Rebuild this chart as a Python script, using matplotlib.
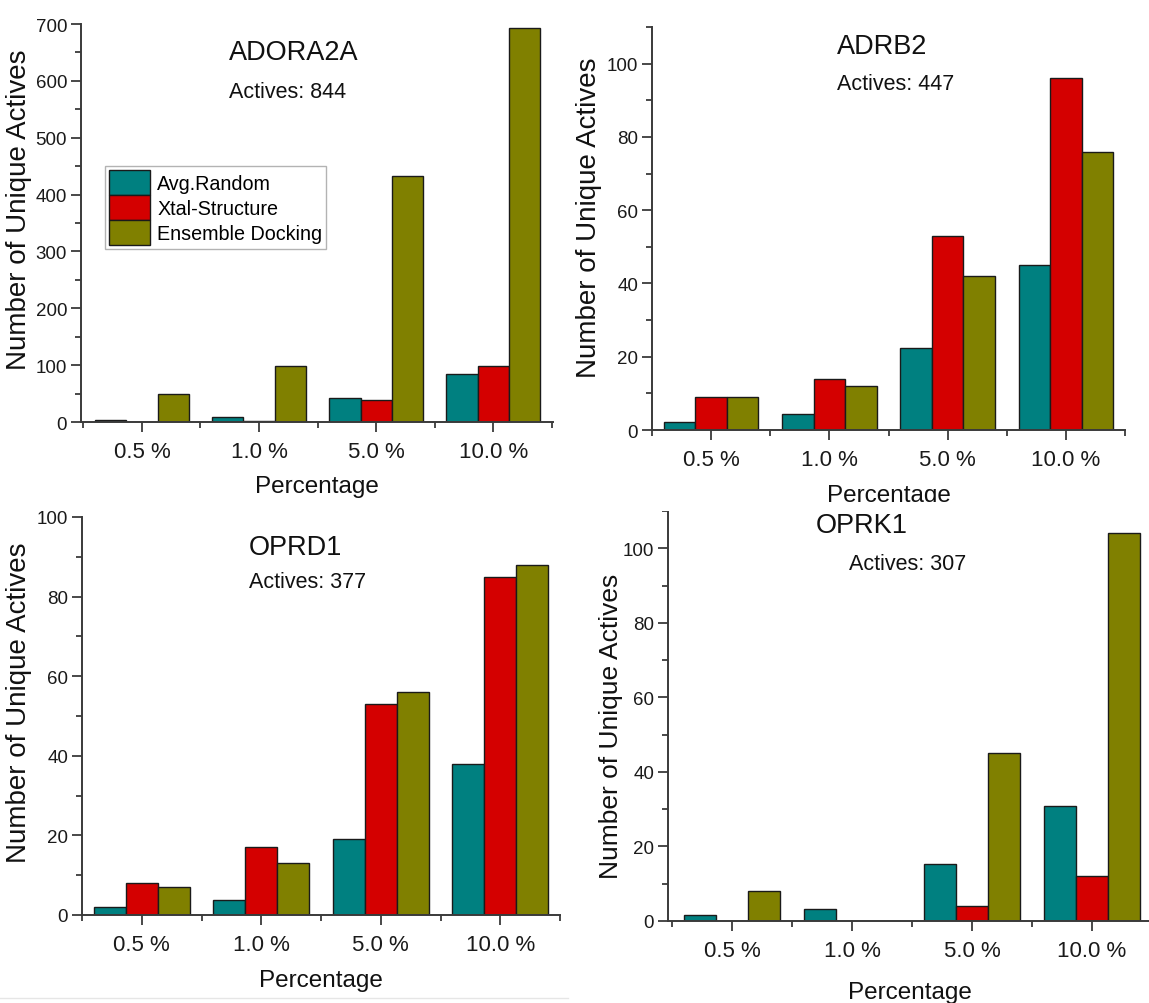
import matplotlib
matplotlib.use("Agg")
import matplotlib.pyplot as plt
from matplotlib.ticker import MultipleLocator, FixedLocator
from matplotlib.patches import Patch, Rectangle
import numpy as np

plt.rcParams['font.family'] = ['Liberation Sans', 'DejaVu Sans']

W, H, DPI = 1149, 1004, 100

categories = ["0.5 %", "1.0 %", "5.0 %", "10.0 %"]
series_names = ["Avg.Random", "Xtal-Structure", "Ensemble Docking"]
series_colors = ["#008080", "#d40000", "#808000"]

# ADORA2A
adora2a_random = [4, 9, 43, 85]
adora2a_xtal = [0, 2, 39, 98]
adora2a_ensemble = [50, 99, 432, 693]

# ADRB2
adrb2_random = [2.3, 4.5, 22.4, 45]
adrb2_xtal = [9, 14, 53, 96]
adrb2_ensemble = [9, 12, 42, 76]

# OPRD1
oprd1_random = [2, 3.7, 19, 38]
oprd1_xtal = [8, 17, 53, 85]
oprd1_ensemble = [7, 13, 56, 88]

# OPRK1
oprk1_random = [1.5, 3.1, 15.4, 30.8]
oprk1_xtal = [0, 0, 4, 12]
oprk1_ensemble = [8, 0, 45, 104]

targets = ["ADORA2A", "ADRB2", "OPRD1", "OPRK1"]
actives = [844, 447, 377, 307]

fig = plt.figure(figsize=(W / DPI, H / DPI), dpi=DPI)


def px_axes(left, right, bottom, top):
    return fig.add_axes([left / W, 1 - bottom / H, (right - left) / W, (bottom - top) / H])


def panel(box, series, ylim, ymajor, xlim, name, n_act, title_xy, act_xy,
          ylabel_xy, xlabel_y, ylabel_size=20, legend=False):
    left, right, bottom, top = box
    ax = px_axes(left, right, bottom, top)
    x = np.arange(1, len(categories) + 1)
    w = 0.8 / 3
    for i, (vals, col, lab) in enumerate(zip(series, series_colors, series_names)):
        ax.bar(x + (i - 1) * w, vals, width=w, color=col, edgecolor="#1a1a1a",
               linewidth=1.0, label=lab, zorder=2)
    ax.set_xlim(*xlim)
    ax.set_ylim(*ylim)
    for s in ["top", "right"]:
        ax.spines[s].set_visible(False)
    for s in ["left", "bottom"]:
        ax.spines[s].set_color("#3a3a3a")
        ax.spines[s].set_linewidth(1.4)
        ax.spines[s].set_zorder(3)
    ax.set_xticks(x)
    ax.set_xticklabels(categories, fontsize=16, color="#1a1a1a")
    ax.xaxis.set_minor_locator(FixedLocator(np.arange(0.5, len(categories) + 1, 1.0)))
    ax.yaxis.set_major_locator(MultipleLocator(ymajor))
    ax.yaxis.set_minor_locator(MultipleLocator(ymajor / 2))
    ax.tick_params(axis="both", which="major", direction="out", length=7, width=1.3,
                   color="#3a3a3a")
    ax.tick_params(axis="both", which="minor", direction="out", length=4, width=1.3,
                   color="#3a3a3a")
    ax.tick_params(axis="y", labelsize=13.5, labelcolor="#1a1a1a", pad=3)
    ax.tick_params(axis="x", pad=7)
    ax.set_ylabel("Number of Unique Actives", fontsize=ylabel_size, color="#111111")
    ax.set_xlabel("Percentage", fontsize=17.5, color="#111111")
    ax.yaxis.set_label_coords((ylabel_xy[0] - left) / (right - left),
                              (bottom - ylabel_xy[1]) / (bottom - top))
    ax.xaxis.set_label_coords(0.5, -(xlabel_y - bottom) / (bottom - top))
    ax.xaxis.label.set_va("center")
    ax.yaxis.label.set_va("center")
    fig.text(title_xy[0] / W, 1 - title_xy[1] / H, name, fontsize=19.5,
             ha="left", va="center", color="#111111")
    fig.text(act_xy[0] / W, 1 - act_xy[1] / H, f"Actives: {n_act}", fontsize=15.5,
             ha="left", va="center", color="#111111")
    if legend:
        handles = [Patch(facecolor=c, edgecolor="#1a1a1a", linewidth=1.0, label=l)
                   for c, l in zip(series_colors, series_names)]
        leg = ax.legend(handles=handles, loc="upper left",
                        bbox_to_anchor=((105 - left) / (right - left),
                                        (bottom - 167) / (bottom - top)),
                        fontsize=14.2, frameon=True, fancybox=False,
                        handlelength=2.1, handleheight=1.55, labelspacing=0.02,
                        handletextpad=0.35, borderpad=0.2, borderaxespad=0)
        leg.get_frame().set_edgecolor("#a0a0a0")
        leg.get_frame().set_linewidth(1.0)
    return ax


panel((81, 553, 423, 25),
      [adora2a_random, adora2a_xtal, adora2a_ensemble],
      (0, 700), 100, (0.48, 4.51), targets[0], actives[0],
      (229, 53), (229, 92), (19, 210), 487, legend=True)

panel((652, 1125, 431, 28),
      [adrb2_random, adrb2_xtal, adrb2_ensemble],
      (0, 110), 20, (0.5, 4.5), targets[1], actives[1],
      (837, 47), (837, 85), (589, 218), 496)

panel((82, 560, 916, 518),
      [oprd1_random, oprd1_xtal, oprd1_ensemble],
      (0, 100), 20, (0.5, 4.5), targets[2], actives[2],
      (249, 548), (249, 583), (19, 703), 981)

panel((668, 1152, 922, 512),
      [oprk1_random, oprk1_xtal, oprk1_ensemble],
      (0, 110), 20, (0.467, 4.5), targets[3], actives[3],
      (816, 526), (849, 565), (611, 726), 993, ylabel_size=19)

# the lower-left panel sits on its own white sheet that overlaps the label above
fig.patches.append(Rectangle((600 / W, 1 - 512 / H), (W - 600) / W, 9 / H,
                             transform=fig.transFigure, facecolor="white",
                             edgecolor="none", zorder=10))
fig.lines.append(plt.Line2D([0, 568 / W], [1 - 999 / H, 1 - 999 / H],
                            transform=fig.transFigure, color="#e6e6e6", linewidth=1.0))

fig.savefig("out.png", dpi=DPI)
